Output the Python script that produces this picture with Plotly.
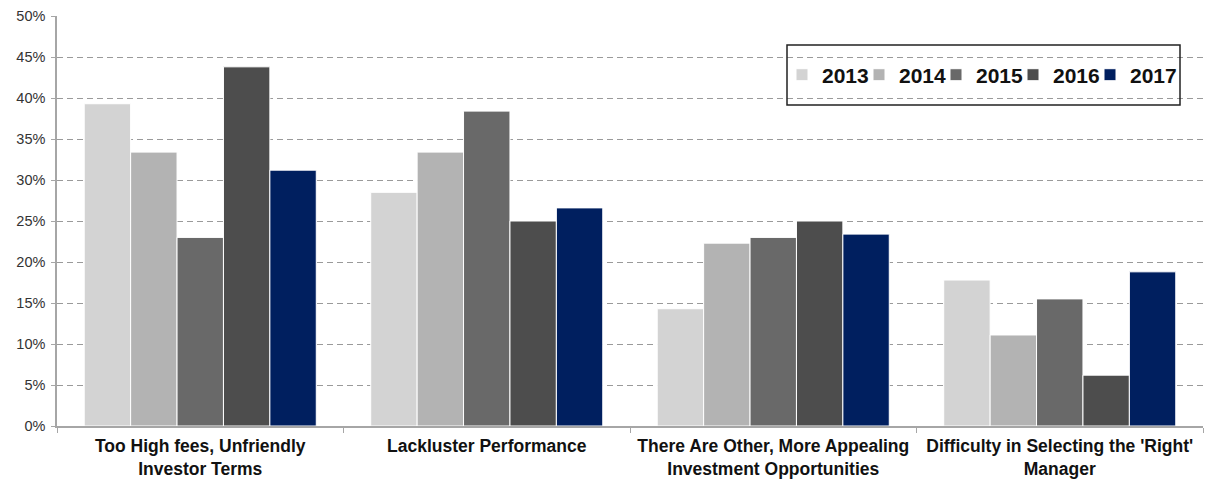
import plotly.graph_objects as go

categories = [
    "Too High fees, Unfriendly<br>Investor Terms",
    "Lackluster Performance",
    "There Are Other, More Appealing<br>Investment Opportunities",
    "Difficulty in Selecting the 'Right'<br>Manager",
]
years = ["2013", "2014", "2015", "2016", "2017"]
v2013 = [0.393, 0.285, 0.143, 0.178]
v2014 = [0.334, 0.334, 0.223, 0.111]
v2015 = [0.230, 0.384, 0.230, 0.155]
v2016 = [0.438, 0.250, 0.250, 0.062]
v2017 = [0.312, 0.266, 0.234, 0.188]
colors = ["#d3d3d3", "#b3b3b3", "#696969", "#4d4d4d", "#001f5f"]
series = [v2013, v2014, v2015, v2016, v2017]
ytickvals = [0, 0.05, 0.10, 0.15, 0.20, 0.25, 0.30, 0.35, 0.40, 0.45, 0.50]

W, H = 1206, 481
PL, PW = 57, 1146  # plot left / width in px

fig = go.Figure()
for name, vals, col in zip(years, series, colors):
    fig.add_trace(go.Bar(
        x=categories, y=vals, name=name,
        marker=dict(color=col, line=dict(color="white", width=1)),
    ))
# invisible spacer entry so the last legend label is not clipped
fig.add_trace(go.Scatter(
    x=[None], y=[None], name=" ", mode="markers",
    marker=dict(color="rgba(0,0,0,0)"), showlegend=True, hoverinfo="skip",
))

fig.update_layout(
    width=W, height=H,
    margin=dict(l=57, r=3, t=16, b=55, autoexpand=False),
    paper_bgcolor="white", plot_bgcolor="white",
    barmode="group", bargap=0.19, bargroupgap=0,
    font=dict(family="Liberation Sans, Arial", color="#222222"),
    legend=dict(
        orientation="h",
        x=(782 - PL) / PW, y=0.856, xanchor="left", yanchor="middle",
        bgcolor="rgba(0,0,0,0)", borderwidth=0,
        entrywidth=32, entrywidthmode="pixels",
        font=dict(size=21, family="Liberation Sans, Arial", color="#111111", weight="bold"),
        traceorder="normal",
    ),
    shapes=[dict(type="rect", xref="paper", yref="paper",
                 x0=(787 - PL) / PW, x1=(1180 - PL) / PW,
                 y0=(426 - 105) / 410, y1=(426 - 45) / 410,
                 line=dict(color="#222222", width=1.5), fillcolor="rgba(0,0,0,0)")],
)
fig.update_xaxes(
    showline=True, linecolor="#a6a6a6", linewidth=1.5,
    ticks="outside", tickson="boundaries", ticklen=5, tickcolor="#a6a6a6",
    tickfont=dict(size=17.5, family="Liberation Sans, Arial", color="#111111", weight="bold"),
    tickangle=0, ticklabelstandoff=3,
    showgrid=False,
)
fig.update_yaxes(
    range=[0, 0.5], tickvals=ytickvals, tickformat=".0%",
    showline=True, linecolor="#a6a6a6", linewidth=1.5,
    ticks="outside", ticklen=4, tickcolor="#a6a6a6",
    tickfont=dict(size=14.5, family="Liberation Sans, Arial", color="#333333"),
    ticklabelstandoff=3,
    showgrid=True, gridcolor="#9a9a9a", griddash="6px,4px", gridwidth=1,
    zeroline=False,
)

fig.write_html("out.html")
